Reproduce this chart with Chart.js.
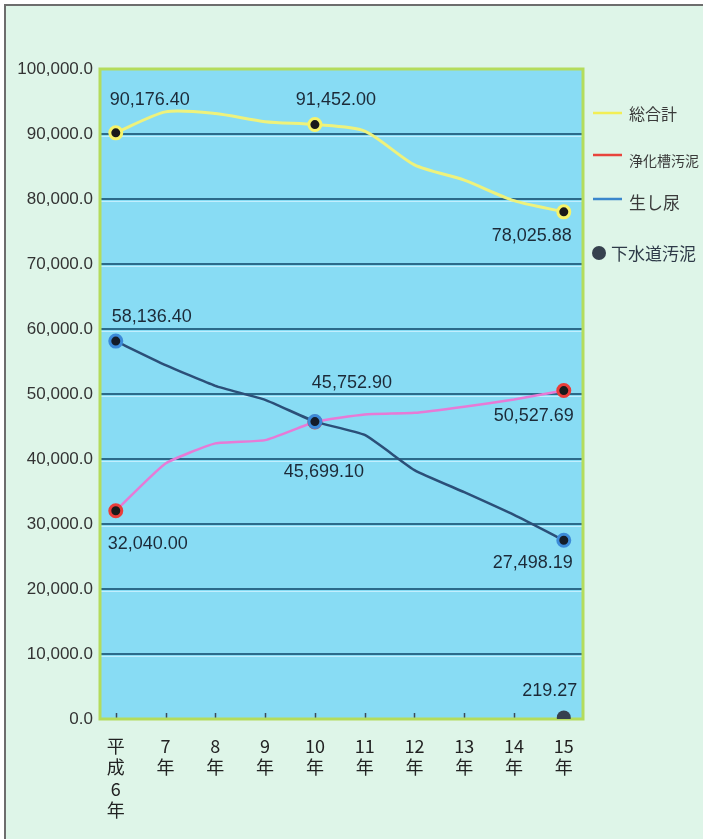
<!DOCTYPE html>
<html>
<head>
<meta charset="utf-8">
<script src="https://cdn.jsdelivr.net/npm/chart.js@4/dist/chart.umd.min.js"></script>
<style>
  html, body { margin: 0; padding: 0; background: #ffffff; }
  canvas { display: block; }
</style>
</head>
<body>
<canvas id="chart" width="703" height="839"></canvas>
<script>
// Fiscal years (Heisei 6 - 15) and their stacked tick labels
const years = ['平成6年', '7年', '8年', '9年', '10年', '11年', '12年', '13年', '14年', '15年'];
const tickLabels = [['平', '成', '6', '年'], ['7', '年'], ['8', '年'], ['9', '年'], ['10', '年'],
                    ['11', '年'], ['12', '年'], ['13', '年'], ['14', '年'], ['15', '年']];

// Treatment volumes per year
const total      = [90176.40, 93400, 93150, 91900, 91452.00, 90450, 85250, 82900, 79750, 78025.88];
const septic     = [32040.00, 39300, 42400, 42900, 45699.10, 46850, 47100, 48050, 49150, 50527.69];
const nightSoil  = [58136.40, 54450, 51250, 49100, 45752.90, 43700, 38300, 34900, 31400, 27498.19];
const sewage     = [null, null, null, null, null, null, null, null, null, 219.27];

// Series names
const seriesNames = ['総合計', '浄化槽汚泥', '生し尿', '下水道汚泥'];

// Y axis range
const yMin = 0, yMax = 100000, yStep = 10000;

const FONT = '"Liberation Sans", Arial, "Noto Sans CJK JP", sans-serif';
const CJK = '"Noto Sans CJK JP", "Liberation Sans", sans-serif';

const toPoints = arr => arr.map((v, i) => ({ x: i, y: v }));
const marked = (arr, r) => arr.map((_, i) => (i === 0 || i === 4 || i === arr.length - 1) ? r : 0);

const fmt2 = new Intl.NumberFormat('en-US', { minimumFractionDigits: 2, maximumFractionDigits: 2 });
const fmt1 = new Intl.NumberFormat('en-US', { minimumFractionDigits: 1, maximumFractionDigits: 1 });

// Value callouts: dataset index, point index, label offset from the point
const callouts = [
  { ds: 0, i: 0, dx: 34, dy: -33 },
  { ds: 0, i: 4, dx: 21, dy: -25 },
  { ds: 0, i: 9, dx: -32, dy: 24 },
  { ds: 2, i: 0, dx: 36, dy: -24 },
  { ds: 2, i: 4, dx: 37, dy: -39 },
  { ds: 2, i: 9, dx: -31, dy: 23 },
  { ds: 1, i: 0, dx: 32, dy: 33 },
  { ds: 1, i: 4, dx: 9, dy: 50 },
  { ds: 1, i: 9, dx: -30, dy: 25 },
  { ds: 3, i: 9, dx: -14, dy: -27 }
];

const framePlugin = {
  id: 'frame',
  beforeDraw(chart) {
    const { ctx, chartArea: a, width, height } = chart;
    ctx.save();
    ctx.fillStyle = '#ffffff';
    ctx.fillRect(0, 0, width, height);
    ctx.fillStyle = '#def5e8';
    ctx.fillRect(6, 6, width - 6, height - 6);
    ctx.strokeStyle = '#6d6d6d';
    ctx.lineWidth = 2;
    ctx.beginPath();
    ctx.moveTo(5, height); ctx.lineTo(5, 5); ctx.lineTo(width, 5);
    ctx.stroke();
    ctx.fillStyle = '#88dcf4';
    ctx.fillRect(a.left, a.top, a.right - a.left, a.bottom - a.top);
    ctx.restore();
  },
  beforeDatasetsDraw(chart) {
    const { ctx, chartArea: a, scales } = chart;
    ctx.save();
    // pale highlight under each grid line
    ctx.strokeStyle = 'rgba(200,240,255,0.9)';
    ctx.lineWidth = 1;
    scales.y.ticks.forEach(t => {
      if (t.value <= yMin || t.value >= yMax) return;
      const y = Math.round(scales.y.getPixelForValue(t.value)) + 2.5;
      ctx.beginPath(); ctx.moveTo(a.left, y); ctx.lineTo(a.right, y); ctx.stroke();
    });
    // small inward ticks on the category axis
    ctx.strokeStyle = '#3a4a5a';
    ctx.lineWidth = 1.5;
    scales.x.ticks.forEach(t => {
      const x = Math.round(scales.x.getPixelForValue(t.value)) + 0.5;
      ctx.beginPath(); ctx.moveTo(x, a.bottom - 6); ctx.lineTo(x, a.bottom); ctx.stroke();
    });
    // plot border
    ctx.strokeStyle = '#b4dc5c';
    ctx.lineWidth = 3;
    ctx.strokeRect(a.left, a.top, a.right - a.left, a.bottom - a.top);
    ctx.restore();
  },
  afterDatasetsDraw(chart) {
    const { ctx } = chart;
    ctx.save();
    // value callouts
    ctx.fillStyle = '#1c2a38';
    ctx.font = '18px ' + FONT;
    ctx.textAlign = 'center';
    ctx.textBaseline = 'middle';
    callouts.forEach(c => {
      const el = chart.getDatasetMeta(c.ds).data[c.i];
      const v = chart.data.datasets[c.ds].data[c.i].y;
      ctx.fillText(fmt2.format(v), el.x + c.dx, el.y + c.dy);
    });

    // legend at the right of the plot
    const ds = chart.data.datasets;
    const lx = 593;
    const rows = [
      { d: 0, y: 113, size: 16, ty: 114 },
      { d: 1, y: 155, size: 14, ty: 161 },
      { d: 2, y: 199, size: 17, ty: 203 },
    ];
    ctx.textAlign = 'left';
    ctx.fillStyle = '#3a3a3a';
    rows.forEach(r => {
      ctx.strokeStyle = ds[r.d].legendColor;
      ctx.lineWidth = 2.5;
      ctx.beginPath(); ctx.moveTo(lx, r.y); ctx.lineTo(lx + 29, r.y); ctx.stroke();
      ctx.font = r.size + 'px ' + CJK;
      ctx.fillText(ds[r.d].label, 629, r.ty);
    });
    ctx.fillStyle = ds[3].pointBackgroundColor;
    ctx.beginPath(); ctx.arc(599, 253, 7, 0, Math.PI * 2); ctx.fill();
    ctx.fillStyle = '#2e3a48';
    ctx.font = '17px ' + CJK;
    ctx.fillText(ds[3].label, 611, 254);
    ctx.restore();
  }
};

new Chart(document.getElementById('chart'), {
  type: 'line',
  data: {
    datasets: [
      {
        label: seriesNames[0], data: toPoints(total), order: 3,
        borderColor: '#eef27c', borderWidth: 3, tension: 0.25,
        pointRadius: marked(total, 6), pointBorderWidth: 3,
        pointBackgroundColor: '#1a1a1a', pointBorderColor: '#f6f36a',
        legendColor: '#f2ee55'
      },
      {
        label: seriesNames[1], data: toPoints(septic), order: 2,
        borderColor: '#e77ad6', borderWidth: 2.5, tension: 0.15,
        pointRadius: marked(septic, 6), pointBorderWidth: 3,
        pointBackgroundColor: '#1a1a1a', pointBorderColor: '#ea3d3a',
        legendColor: '#e8443c'
      },
      {
        label: seriesNames[2], data: toPoints(nightSoil), order: 1,
        borderColor: '#2b4f78', borderWidth: 2.5, tension: 0.15,
        pointRadius: marked(nightSoil, 6), pointBorderWidth: 3,
        pointBackgroundColor: '#141c28', pointBorderColor: '#3c8ad8',
        legendColor: '#3a86cc'
      },
      {
        label: seriesNames[3], data: toPoints(sewage), order: 0,
        showLine: false, borderWidth: 0,
        pointRadius: 7, pointBorderWidth: 0,
        pointBackgroundColor: '#36414e', pointBorderColor: '#36414e'
      }
    ]
  },
  options: {
    responsive: false,
    devicePixelRatio: 1,
    animation: false,
    layout: { padding: { top: 69, right: 120, left: 0, bottom: 0 } },
    plugins: { legend: { display: false }, tooltip: { enabled: false } },
    elements: { point: { hoverRadius: 0 } },
    scales: {
      x: {
        type: 'linear',
        min: -0.317, max: 9.386,
        afterBuildTicks: s => { s.ticks = years.map((_, i) => ({ value: i })); },
        afterFit: s => { s.height = 120; },
        grid: { display: false, drawTicks: false },
        border: { display: false },
        ticks: {
          autoSkip: false, maxRotation: 0, padding: 16,
          color: '#222', font: { family: CJK, size: 18, lineHeight: 1.2 },
          callback: (v, i) => tickLabels[i]
        }
      },
      y: {
        min: yMin, max: yMax,
        afterFit: s => { s.width = 100; },
        border: { display: false },
        grid: {
          drawTicks: false, lineWidth: 2,
          color: c => (c.tick && (c.tick.value <= yMin || c.tick.value >= yMax)) ? 'rgba(0,0,0,0)' : '#2b6a8a'
        },
        ticks: {
          stepSize: yStep, padding: 7,
          color: '#333', font: { family: FONT, size: 17 },
          callback: v => fmt1.format(v)
        }
      }
    }
  },
  plugins: [framePlugin]
});
</script>
</body>
</html>
